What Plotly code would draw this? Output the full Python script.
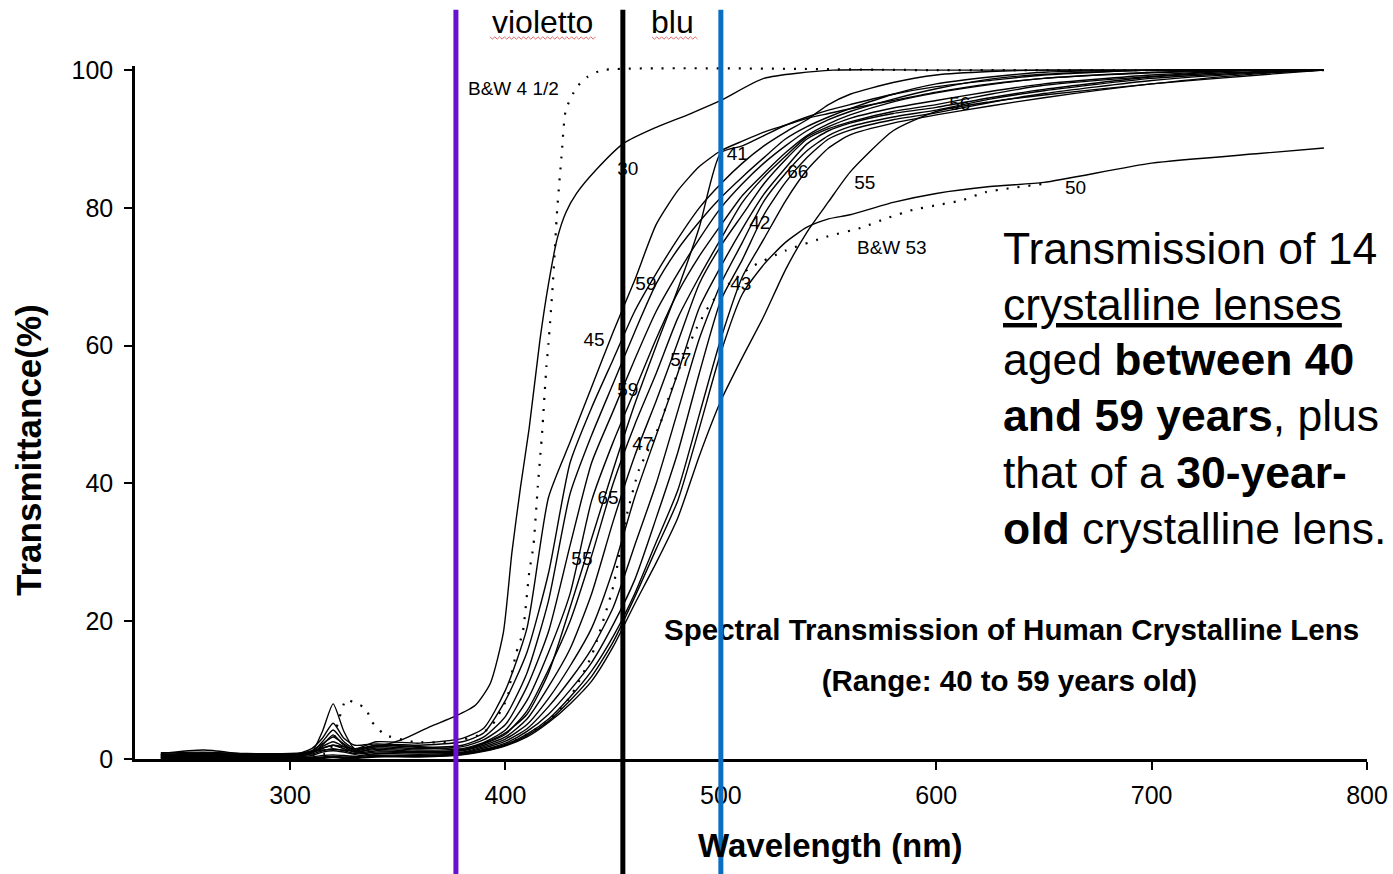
import plotly.graph_objects as go

# ---------------- data ----------------
wl = [240, 260, 280, 300, 310, 315, 320, 325, 330, 340, 360,
      380, 390, 400, 410, 420, 430, 440, 450, 460, 470, 480, 490, 500, 510,
      520, 530, 540, 550, 560, 580, 600, 625, 650, 700, 750, 780]

lens_01 = [0.8, 1.3, 0.7, 0.7, 1.0, 4.0, 8.0, 4.0, 1.5, 2.5, 2.3,
           3.0, 4.5, 10, 19, 38, 46, 54, 62, 69.5, 77.6, 82.5, 86, 88.3, 89.7,
           91, 92, 93, 93.7, 94.4, 95.6, 96.8, 98, 98.8, 99.6, 100, 100]
lens_02 = [0.6, 0.9, 0.5, 0.5, 1.5, 3.0, 5.2, 3.0, 2.0, 2.2, 2.0,
           2.5, 3.8, 8.5, 15.5, 27, 43, 51, 58, 65, 70.5, 75.5, 80, 83.5, 86.5,
           89, 91, 92.8, 95, 96.5, 98.2, 99.3, 99.8, 100, 100, 100, 100]
lens_03 = [0.5, 0.6, 0.4, 0.4, 1.0, 2.5, 4.2, 2.5, 1.5, 2.0, 1.7,
           2.0, 3.2, 6.2, 12.5, 23, 38.5, 47, 54.5, 62, 69, 74, 78, 81.5, 84.5,
           87.3, 90, 91.8, 93.2, 94.4, 96.5, 98, 99, 99.7, 100, 100, 100]
lens_04 = [0.4, 0.5, 0.5, 0.6, 1.2, 2.2, 3.2, 2.2, 1.2, 1.8, 1.5,
           1.8, 2.8, 5, 10.5, 18.5, 31, 43, 50.5, 58, 65, 70.5, 75.5, 80, 83.5,
           86.5, 89, 91.2, 92.8, 94, 95.8, 97.3, 98.7, 99.4, 100, 100, 100]
lens_05 = [0.3, 0.4, 0.3, 0.3, 0.8, 1.8, 2.5, 1.8, 1.0, 1.6, 1.3,
           1.5, 2.4, 4.2, 8.5, 15.5, 24, 37.5, 46, 53.5, 61, 67.7, 73, 77.5, 81.8,
           85, 88, 90.5, 92.2, 93.5, 95.4, 96.7, 97.9, 98.8, 99.7, 100, 100]
lens_06 = [0.6, 0.7, 0.6, 0.6, 1.0, 1.6, 2.0, 1.5, 1.0, 1.4, 1.1,
           1.3, 2.2, 3.6, 7, 13, 20, 29.5, 40, 48.5, 56, 64, 70, 75.5, 80.8,
           84.5, 87.5, 90.3, 91.8, 93, 94.5, 95.6, 96.9, 98, 99.3, 100, 100]
lens_07 = [0.5, 0.5, 0.4, 0.5, 0.7, 1.2, 1.5, 1.2, 0.8, 1.2, 1.0,
           1.2, 2.0, 3.2, 5.8, 10.5, 16, 24, 34.5, 44, 52, 60.5, 69, 74.5, 79,
           83.5, 87, 90, 91.5, 92.5, 94, 95, 96.5, 97.8, 99.1, 100, 100]
lens_08 = [0.3, 0.3, 0.3, 0.3, 0.5, 1.0, 1.2, 1.0, 0.7, 1.0, 0.9,
           1.0, 1.8, 2.9, 5, 8.8, 13.5, 19, 27.5, 38, 47, 56, 65.5, 71.5, 77,
           82, 85.8, 89.3, 91.2, 92.3, 93.7, 94.6, 96, 97.2, 99, 99.8, 100]
lens_09 = [0.2, 0.2, 0.2, 0.2, 0.3, 0.5, 0.6, 0.5, 0.4, 0.8, 0.7,
           0.9, 1.6, 2.6, 4.4, 7.6, 11.5, 16, 22, 31, 40, 50.5, 61, 69, 75,
           81, 85, 88.3, 90.5, 91.8, 93.2, 94.2, 95.8, 97, 98.8, 99.7, 100]
lens_10 = [0.1, 0.1, 0.1, 0.1, 0.2, 0.3, 0.4, 0.3, 0.3, 0.6, 0.5,
           0.8, 1.4, 2.3, 4, 6.5, 10, 14, 19.5, 26, 35, 44.5, 56, 66.6, 72.5,
           79, 83.7, 87.3, 90, 91.3, 92.8, 93.8, 95.3, 96.6, 98.5, 99.6, 100]
lens_11 = [0.9, 1.0, 0.8, 0.8, 1.0, 1.3, 1.4, 1.3, 1.1, 0.5, 0.4,
           0.7, 1.3, 2.1, 3.6, 5.8, 9, 12.8, 17.8, 24, 31.5, 39, 50, 61, 70,
           75.5, 81, 85.5, 88.7, 90.6, 92.3, 93.5, 94.8, 96, 98, 99.5, 100]
lens_12 = [0.2, 0.2, 0.2, 0.2, 0.2, 0.2, 0.3, 0.2, 0.2, 0.4, 0.4,
           0.7, 1.2, 2.0, 3.4, 5.5, 8.5, 12, 17, 23.5, 30.5, 37.5, 48, 59, 67.5,
           71.8, 75, 77.2, 78.4, 79, 80.8, 82.1, 83.1, 83.7, 86.5, 87.9, 88.7]
lens_13 = [0.1, 0.1, 0.1, 0.1, 0.1, 0.1, 0.2, 0.1, 0.1, 0.3, 0.3,
           0.6, 1.1, 1.9, 3.2, 5.3, 8, 11.3, 16.3, 22.5, 28.5, 35, 44, 52, 58.3,
           64.3, 71, 76.5, 80.9, 85.2, 91.2, 94, 95.4, 96.4, 98, 99.3, 100]
lens_14 = [0.7, 0.8, 0.7, 0.7, 0.9, 2.0, 3.5, 2.0, 1.3, 2.0, 1.8,
           1.4, 2.3, 3.8, 6.5, 12.5, 22, 32, 42, 51.5, 60, 68.2, 77.2, 88, 89,
           90.5, 92, 93.2, 94.2, 95, 96.5, 97.6, 98.5, 99.3, 100, 100, 100]

wl_30 = [240, 260, 280, 300, 310, 320, 330, 340, 352, 365, 376, 386, 393, 399,
         403, 407, 411, 416, 420, 424, 428, 433, 442, 455, 470, 486, 500, 520,
         552, 600, 700, 780]
lens_30 = [0.6, 0.7, 0.6, 0.6, 1.0, 2.0, 1.5, 1.8, 2.8, 4.7, 6.1, 7.8, 11, 18.3,
           30, 39.5, 48, 60.8, 69, 75.5, 79.3, 82.1, 85.5, 89.4, 91.7, 93.7, 95.6, 98.8,
           100, 100, 100, 100]

wl_bw412 = [300, 318, 322, 326, 331, 335, 338, 340, 344, 357, 375, 388, 394, 398,
            401, 403, 405, 408, 411, 413, 415, 417, 419, 420, 422, 424, 426, 428,
            433, 438, 445, 600, 780]
bw_412 = [0.4, 1.0, 5.0, 8.6, 8.0, 7.4, 5.4, 4.7, 3.5, 2.5, 2.5, 3.5, 5.0, 7.1,
          9.0, 12.5, 15.4, 18.3, 27, 31, 39.5, 47.3, 56.9, 60.4, 69, 79.7, 87.4, 94.2,
          97.5, 99, 100, 100, 100]

wl_bw53 = [380, 400, 420, 430, 440, 450, 456, 462, 468, 472, 477, 483, 489, 495,
           502, 514, 530, 549, 566, 577, 589, 602, 612, 623, 650]
bw_53 = [0.8, 2.0, 5.5, 9, 15, 25, 35, 42, 46, 48.8, 53.6, 58.5, 62.7, 66,
         68.5, 71.4, 73.8, 75.8, 77.2, 78.5, 79.7, 80.5, 81.1, 82.3, 83.5]

label_text = ["B&W 4 1/2", "30", "41", "66", "55", "50", "56", "B&W 53", "42", "43",
              "59", "45", "57", "59", "47", "65", "55"]
label_x = [403.7, 456.8, 507.6, 535.7, 566.8, 664.7, 610.9, 579.4, 518.1, 509.3,
           465.2, 441.1, 481.4, 456.8, 463.8, 447.6, 435.5]
label_y = [97.1, 85.5, 87.7, 85.0, 83.5, 82.7, 94.9, 74.0, 77.7, 68.8,
           68.8, 60.7, 57.8, 53.4, 45.6, 37.7, 28.9]

band_violet = 377
band_split = 454.5
band_blue = 500

x_ticks = [300, 400, 500, 600, 700, 800]
y_ticks = [0, 20, 40, 60, 80, 100]

side_lines = [
    "Transmission of 14",
    "<span style='text-decoration:underline'>crystalline lenses</span>",
    "aged <b>between 40</b>",
    "<b>and 59 years</b>, plus",
    "that of a <b>30-year-</b>",
    "<b>old</b> crystalline lens.",
]

# ---------------- figure ----------------
W, H = 1393, 874
ML, MR, MT, MB = 135, 26, 66, 115
SANS = "Liberation Sans, Arial, sans-serif"
PW, PH = W - ML - MR, H - MT - MB


def to_paper(px, py):
    return (px - ML) / PW, (H - MB - py) / PH


fig = go.Figure()

lens_series = [lens_01, lens_02, lens_03, lens_04, lens_05, lens_06, lens_07,
               lens_08, lens_09, lens_10, lens_11, lens_12, lens_13, lens_14]
for ys in lens_series:
    fig.add_trace(go.Scatter(x=wl, y=ys, mode="lines",
                             line=dict(color="black", width=1.4, shape="spline", smoothing=0.6),
                             hoverinfo="skip", showlegend=False))

fig.add_trace(go.Scatter(x=wl_30, y=lens_30, mode="lines",
                         line=dict(color="black", width=1.4, shape="spline", smoothing=0.6),
                         hoverinfo="skip", showlegend=False))
for xs, ys in [(wl_bw412, bw_412), (wl_bw53, bw_53)]:
    fig.add_trace(go.Scatter(x=xs, y=ys, mode="lines",
                             line=dict(color="black", width=2.2, dash="2px,9px",
                                       shape="spline", smoothing=0.5),
                             hoverinfo="skip", showlegend=False))

fig.add_trace(go.Scatter(x=label_x, y=label_y, mode="text", text=label_text,
                         textfont=dict(family=SANS, size=19, color="black"),
                         hoverinfo="skip", showlegend=False))

# chart caption inside the plot (drawn as text so the blue line passes over it)
fig.add_trace(go.Scatter(x=[635, 634], y=[18.4, 11.0], mode="text",
                         text=["<b>Spectral Transmission of Human Crystalline Lens</b>",
                               "<b>(Range: 40 to 59 years old)</b>"],
                         textfont=dict(family=SANS, size=29.5, color="black"),
                         hoverinfo="skip", showlegend=False))

shapes = []
for xv, col in [(band_violet, "#6a10cf"), (band_split, "#000000"), (band_blue, "#0a6fc2")]:
    shapes.append(dict(type="line", xref="x", yref="paper", x0=xv, x1=xv,
                       y0=-0.17, y1=1.081, line=dict(color=col, width=5), layer="above"))


def wavy(x0, x1, y, amp=1.2, step=2.4):
    pts, x, i = [], x0, 0
    while x <= x1:
        pts.append(to_paper(x, y + (amp if i % 2 else -amp)))
        x += step
        i += 1
    return "M " + " L ".join(f"{a:.5f},{b:.5f}" for a, b in pts)


for x0, x1 in [(490, 597), (652, 698)]:
    shapes.append(dict(type="path", xref="paper", yref="paper", path=wavy(x0, x1, 38),
                       line=dict(color="#e06a6a", width=1)))

annotations = [
    dict(text="violetto", xref="x", yref="paper", x=417.4, y=1.064, showarrow=False,
         font=dict(family=SANS, size=32, color="black"), xanchor="center", yanchor="middle"),
    dict(text="blu", xref="x", yref="paper", x=477.7, y=1.064, showarrow=False,
         font=dict(family=SANS, size=32, color="black"), xanchor="center", yanchor="middle"),
    dict(text="<b>Transmittance(%)</b>", xref="paper", yref="paper",
         x=to_paper(28, 0)[0], y=to_paper(0, 450)[1],
         textangle=-90, showarrow=False, font=dict(family=SANS, size=35, color="black"),
         xanchor="center", yanchor="middle"),
    dict(text="<b>Wavelength (nm)</b>", xref="paper", yref="paper",
         x=to_paper(830, 0)[0], y=to_paper(0, 845)[1], showarrow=False,
         font=dict(family=SANS, size=33, color="black"), xanchor="center", yanchor="middle"),
]
for i, line in enumerate(side_lines):
    px, py = to_paper(1001, 248 + 56 * i)
    annotations.append(dict(text=line, xref="paper", yref="paper", x=px, y=py,
                            showarrow=False, align="left", xanchor="left", yanchor="middle",
                            font=dict(family=SANS, size=44.5, color="black")))

fig.update_layout(
    width=W, height=H,
    margin=dict(l=ML, r=MR, t=MT, b=MB, pad=0, autoexpand=False),
    paper_bgcolor="white", plot_bgcolor="white",
    showlegend=False, hovermode=False,
    shapes=shapes, annotations=annotations,
    xaxis=dict(range=[228, 800], tickvals=x_ticks, showgrid=False, zeroline=False,
               automargin=False,
               showline=True, linecolor="black", linewidth=2.5, ticks="outside",
               ticklen=8, tickwidth=2, tickcolor="black", ticklabelstandoff=4,
               tickfont=dict(family=SANS, size=25, color="black")),
    yaxis=dict(range=[0, 100.6], tickvals=y_ticks, showgrid=False, zeroline=False,
               automargin=False,
               showline=True, linecolor="black", linewidth=2.5, ticks="outside",
               ticklen=8, tickwidth=2, tickcolor="black", ticklabelstandoff=6,
               tickfont=dict(family=SANS, size=25, color="black")),
)

fig.write_html("out.html")
